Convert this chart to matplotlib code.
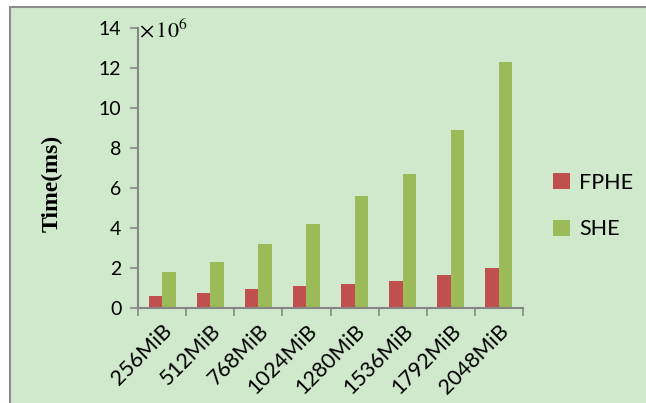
import matplotlib
matplotlib.use("Agg")
import matplotlib.pyplot as plt
from matplotlib.patches import Rectangle
import numpy as np

categories = ["256MiB", "512MiB", "768MiB", "1024MiB", "1280MiB", "1536MiB", "1792MiB", "2048MiB"]
fphe = [0.6, 0.77, 0.97, 1.13, 1.24, 1.36, 1.68, 2.02]
she = [1.82, 2.32, 3.2, 4.2, 5.6, 6.7, 8.9, 12.3]
yticks = [0, 2, 4, 6, 8, 10, 12, 14]

plt.rcParams['mathtext.fontset'] = 'stix'
W, H = 646, 403
fig = plt.figure(figsize=(W/100, H/100), dpi=100, facecolor='white')
bg = '#D0E9CC'
fig.patches.append(Rectangle((10/W, -0.1), 1.0, 1.1 - 7/H, transform=fig.transFigure,
                             facecolor=bg, edgecolor='#8C8C8C', linewidth=1.5, zorder=-1))

ax = fig.add_axes([138/W, 1 - 308.3/H, (523 - 138)/W, (308.3 - 28.3)/H])
ax.set_zorder(2)
ax.set_facecolor('none')
x = np.arange(len(categories))
bw = 0.28
b1 = ax.bar(x - bw/2, fphe, bw, color='#C0504D', label='FPHE')
b2 = ax.bar(x + bw/2, she, bw, color='#9BBB59', label='SHE')

ax.set_xlim(-0.5, len(categories) - 0.5)
ax.set_ylim(0, 14)
ax.set_yticks(yticks)
ax.set_yticklabels([str(v) for v in yticks], fontsize=14, family='Lato')
ax.set_xticks(np.arange(len(categories) + 1) - 0.5)
ax.set_xticklabels([])
ax.set_xticks(x, minor=True)
ax.set_xticklabels(categories, minor=True, rotation=45, ha='right', va='top',
                   rotation_mode='anchor', fontsize=15.5, family='Lato')
ax.tick_params(axis='x', which='minor', length=0, pad=9)
ax.tick_params(axis='x', which='major', length=6, width=1.2, color='#868686')
ax.tick_params(axis='y', length=6, width=1.2, color='#868686', pad=6)
for s in ['top', 'right']:
    ax.spines[s].set_visible(False)
for s in ['left', 'bottom']:
    ax.spines[s].set_color('#868686')
    ax.spines[s].set_linewidth(1.5)

fig.text(52/W, 1 - 183/H, 'Time(ms)', rotation=90, ha='center', va='center',
         fontsize=17, fontweight='bold', family='Liberation Serif')
fig.text(139/W, 1 - 30/H, r'$\times\,10^{6}$', ha='left', va='center', fontsize=16)

fig.legend(handles=[b1, b2], labels=['FPHE', 'SHE'], loc='center left',
           bbox_to_anchor=(534/W, 1 - 206/H), frameon=False,
           prop={'family': 'Lato', 'size': 15.5}, handlelength=0.75, handleheight=0.75,
           labelspacing=1.25, handletextpad=0.45)

fig.savefig('out.png', dpi=100, facecolor='white')
